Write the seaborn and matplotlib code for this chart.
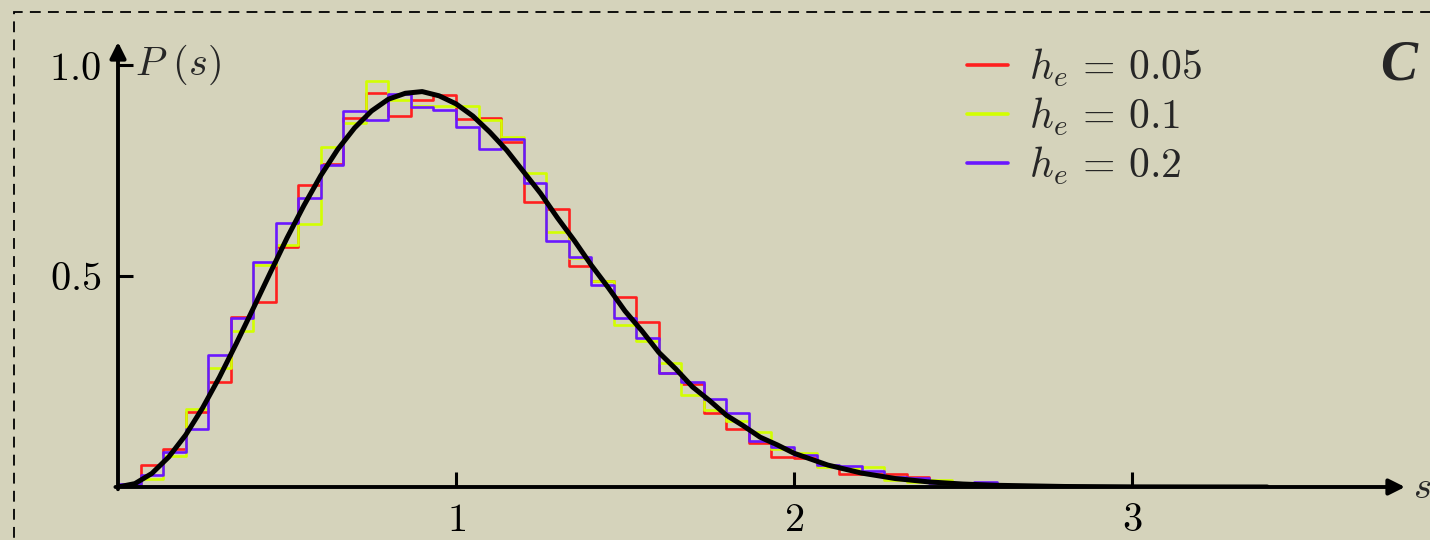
import numpy as np
import pandas as pd
import seaborn as sns
import matplotlib.pyplot as plt
from matplotlib.lines import Line2D
from matplotlib.patches import Rectangle

# ---------------- data ----------------
bin_width = 1 / 15
n_bins = 40

h_red = [0.004, 0.052, 0.089, 0.178, 0.250, 0.404, 0.439, 0.568, 0.716, 0.765,
         0.874, 0.933, 0.879, 0.917, 0.929, 0.873, 0.875, 0.818, 0.675, 0.659,
         0.523, 0.487, 0.451, 0.392, 0.269, 0.245, 0.176, 0.137, 0.105, 0.071,
         0.069, 0.050, 0.031, 0.031, 0.031, 0.023, 0.012, 0.005, 0.002, 0.0]
h_yellow = [0.003, 0.018, 0.073, 0.186, 0.281, 0.370, 0.525, 0.573, 0.623, 0.806,
            0.862, 0.963, 0.917, 0.903, 0.903, 0.903, 0.870, 0.830, 0.743, 0.605,
            0.543, 0.488, 0.384, 0.347, 0.293, 0.218, 0.182, 0.157, 0.130, 0.090,
            0.081, 0.047, 0.045, 0.047, 0.017, 0.013, 0.017, 0.005, 0.002, 0.0]
h_purple = [0.008, 0.028, 0.084, 0.137, 0.313, 0.400, 0.532, 0.625, 0.684, 0.763,
            0.891, 0.870, 0.931, 0.900, 0.893, 0.853, 0.800, 0.824, 0.721, 0.583,
            0.546, 0.479, 0.400, 0.352, 0.271, 0.250, 0.209, 0.176, 0.109, 0.094,
            0.076, 0.053, 0.050, 0.039, 0.024, 0.021, 0.009, 0.004, 0.013, 0.0]

curve_s = [0.0, 0.05, 0.1, 0.15, 0.2, 0.25, 0.3, 0.35, 0.4, 0.45, 0.5, 0.55, 0.6,
           0.65, 0.7, 0.75, 0.8, 0.85, 0.9, 0.95, 1.0, 1.05, 1.1, 1.15, 1.2, 1.25,
           1.3, 1.35, 1.4, 1.45, 1.5, 1.55, 1.6, 1.65, 1.7, 1.75, 1.8, 1.85, 1.9,
           1.95, 2.0, 2.1, 2.2, 2.3, 2.4, 2.5, 2.6, 2.8, 3.0, 3.2, 3.4]
curve_p = [0.0, 0.008, 0.032, 0.071, 0.123, 0.187, 0.260, 0.340, 0.423, 0.507,
           0.590, 0.667, 0.738, 0.800, 0.851, 0.891, 0.919, 0.933, 0.937, 0.927,
           0.908, 0.879, 0.841, 0.798, 0.747, 0.696, 0.638, 0.584, 0.526, 0.473,
           0.417, 0.370, 0.319, 0.280, 0.237, 0.205, 0.170, 0.145, 0.118, 0.100,
           0.080, 0.052, 0.033, 0.020, 0.012, 0.007, 0.004, 0.0012, 0.0003, 0.0001, 0.0]

labels = [r"$h_e\,=\,0.05$", r"$h_e\,=\,0.1$", r"$h_e\,=\,0.2$"]
colors = ["#ff1f1f", "#d2ff00", "#6a17ff"]

x_ticks = [1, 2, 3]
x_ticklabels = [r"$1$", r"$2$", r"$3$"]
y_ticks = [0.5, 1.0]
y_ticklabels = [r"$0.5$", r"$1.0$"]

# ---------------- style ----------------
sns.set_theme(style="white")
plt.rcParams["mathtext.fontset"] = "cm"
plt.rcParams["font.family"] = ["DejaVu Serif", "DejaVu Sans"]

bg = "#d5d3bb"
W, H = 1430, 540
fig = plt.figure(figsize=(W / 100, H / 100), dpi=100, facecolor=bg)
ax = fig.add_axes([118 / W, 53 / H, 1287 / W, 445 / H])
ax.set_facecolor("none")

centers = (np.arange(n_bins) + 0.5) * bin_width

for h, c in zip([h_red, h_yellow, h_purple], colors):
    df = pd.DataFrame({"s": centers, "p": h})
    sns.histplot(data=df, x="s", weights="p", binwidth=bin_width,
                 binrange=(0, n_bins * bin_width), element="step", fill=False,
                 color=c, linewidth=1.9, ax=ax)

sns.lineplot(x=curve_s, y=curve_p, color="black", linewidth=3.6, ax=ax,
             sort=False, zorder=5)

ax.set_xlim(0, 1287 / 338)
ax.set_ylim(0, 445 / 422)
ax.set_xlabel("")
ax.set_ylabel("")
for sp in ax.spines.values():
    sp.set_visible(False)

ax.set_xticks(x_ticks)
ax.set_xticklabels(x_ticklabels)
ax.set_yticks(y_ticks)
ax.set_yticklabels(y_ticklabels)
ax.tick_params(axis="both", direction="in", length=11, width=2.2,
               colors="black", labelsize=29)
ax.tick_params(axis="x", pad=11, bottom=True)
ax.tick_params(axis="y", pad=12, left=True)

# axes as arrows
arrow_kw = dict(arrowstyle="-|>", lw=2.8, color="black", mutation_scale=24,
                shrinkA=0, shrinkB=0)
ax.annotate("", xy=(1, 0), xytext=(-0.002, 0), xycoords="axes fraction",
            arrowprops=arrow_kw, annotation_clip=False, zorder=6)
ax.annotate("", xy=(0, 1), xytext=(0, -0.005), xycoords="axes fraction",
            arrowprops=arrow_kw, annotation_clip=False, zorder=6)

ax.text(0.05, 1.0, r"$P\ (s)$", fontsize=29, va="center", ha="left")
fig.text(1413 / W, 1 - 487 / H, r"$s$", fontsize=28, va="center", ha="left")
fig.text(1399 / W, 1 - 66 / H, "C", fontsize=40, va="center", ha="center",
         fontweight="bold", fontstyle="italic", family="Liberation Serif")

handles = [Line2D([0], [0], color=c, lw=2.6) for c in colors]
ax.legend(handles, labels, loc="upper left", bbox_to_anchor=(950 / W, 1 - 30 / H),
          bbox_transform=fig.transFigure, frameon=False, fontsize=30,
          handlelength=1.0, handletextpad=0.5, labelspacing=0.17,
          borderaxespad=0)

# dashed frame
fig.patches.append(Rectangle((14 / W, -0.2), 1.2, (1 - 12 / H) + 0.2,
                             transform=fig.transFigure, fill=False,
                             edgecolor="black", lw=1.3, linestyle=(0, (6, 4))))

fig.savefig("out.png", dpi=100, facecolor=bg)
